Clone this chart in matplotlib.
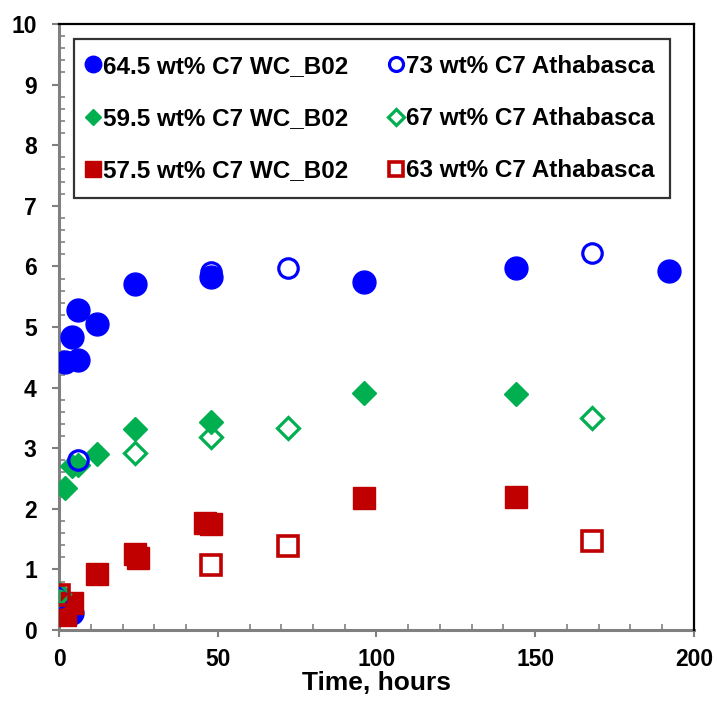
import matplotlib
matplotlib.use("Agg")
import matplotlib.pyplot as plt
from matplotlib.ticker import MultipleLocator

plt.rcParams['font.family'] = ['Liberation Sans', 'DejaVu Sans']
plt.rcParams['font.weight'] = 'bold'

# 64.5 wt% C7 WC_B02 (filled circles)
t_wc645 = [0, 4, 2, 6, 4, 6, 12, 24, 48, 96, 144, 192]
y_wc645 = [0.55, 0.28, 4.43, 4.46, 4.84, 5.28, 5.05, 5.71, 5.82, 5.74, 5.98, 5.92]
# 59.5 wt% C7 WC_B02 (filled diamonds)
t_wc595 = [0, 2, 4, 6, 12, 24, 48, 96, 144]
y_wc595 = [0.60, 2.35, 2.70, 2.73, 2.91, 3.32, 3.44, 3.91, 3.90]
# 57.5 wt% C7 WC_B02 (filled squares)
t_wc575 = [2, 4, 12, 24, 25, 46, 48, 96, 144]
y_wc575 = [0.25, 0.45, 0.93, 1.25, 1.19, 1.77, 1.75, 2.17, 2.20]
# 73 wt% C7 Athabasca (open circles)
t_ath73 = [0, 6, 48, 72, 168]
y_ath73 = [0.55, 2.80, 5.90, 5.98, 6.22]
# 67 wt% C7 Athabasca (open diamonds)
t_ath67 = [0, 24, 48, 72, 168]
y_ath67 = [0.60, 2.92, 3.18, 3.34, 3.50]
# 63 wt% C7 Athabasca (open squares)
t_ath63 = [0, 48, 72, 168]
y_ath63 = [0.57, 1.08, 1.39, 1.47]

BLUE = '#0000FF'
GREEN = '#00B050'
RED = '#C00000'

fig = plt.figure(figsize=(7.17, 7.01), dpi=100)
ax = fig.add_axes([0.0823, 0.1013, 0.8856, 0.8645])

ax.plot(t_wc645, y_wc645, 'o', ms=16.5, color=BLUE, mec=BLUE, ls='none',
        label='64.5 wt% C7 WC_B02')
ax.plot(t_wc595, y_wc595, 'D', ms=12, color=GREEN, mec=GREEN, ls='none',
        label='59.5 wt% C7 WC_B02')
ax.plot(t_wc575, y_wc575, 's', ms=15.5, color=RED, mec=RED, ls='none',
        label='57.5 wt% C7 WC_B02')
ax.plot(t_ath73, y_ath73, 'o', ms=14, mfc='none', mec=BLUE, mew=2.3, ls='none',
        label='73 wt% C7 Athabasca')
ax.plot(t_ath67, y_ath67, 'D', ms=11, mfc='none', mec=GREEN, mew=2.3, ls='none',
        label='67 wt% C7 Athabasca')
ax.plot(t_ath63, y_ath63, 's', ms=14.4, mfc='none', mec=RED, mew=2.6, ls='none',
        label='63 wt% C7 Athabasca')

ax.set_xlim(0, 200)
ax.set_ylim(0, 10)
ax.xaxis.set_major_locator(MultipleLocator(50))
ax.xaxis.set_minor_locator(MultipleLocator(10))
ax.yaxis.set_major_locator(MultipleLocator(1))
ax.yaxis.set_minor_locator(MultipleLocator(0.2))

for side in ('left', 'bottom'):
    ax.spines[side].set_color('#808080')
    ax.spines[side].set_linewidth(2.2)
for side in ('top', 'right'):
    ax.spines[side].set_color('black')
    ax.spines[side].set_linewidth(1.6)
ax.spines['left'].set_zorder(0.5)
ax.spines['bottom'].set_zorder(0.5)

ax.tick_params(which='major', direction='out', length=5, width=1.5,
               color='#808080', labelsize=16.5)
ax.tick_params(axis='y', which='major', pad=11)
ax.tick_params(axis='x', which='major', pad=8)
ax.tick_params(which='minor', direction='in', length=4, width=1.2,
               color='#808080')
for lab in ax.get_xticklabels() + ax.get_yticklabels():
    lab.set_fontweight('bold')

ax.set_xlabel('Time, hours', fontsize=19, fontweight='bold', labelpad=0)

leg = ax.legend(ncol=2, loc='upper left', bbox_to_anchor=(0.0236, 0.975),
                borderaxespad=0, fancybox=False, frameon=True,
                prop={'size': 17.5, 'weight': 'bold'},
                handlelength=0.3, handletextpad=0.25, labelspacing=1.2,
                columnspacing=1.8, borderpad=0.65, markerscale=0.72)
leg.get_frame().set_edgecolor('black')
leg.get_frame().set_linewidth(1.6)

fig.savefig('out.png', dpi=100)
